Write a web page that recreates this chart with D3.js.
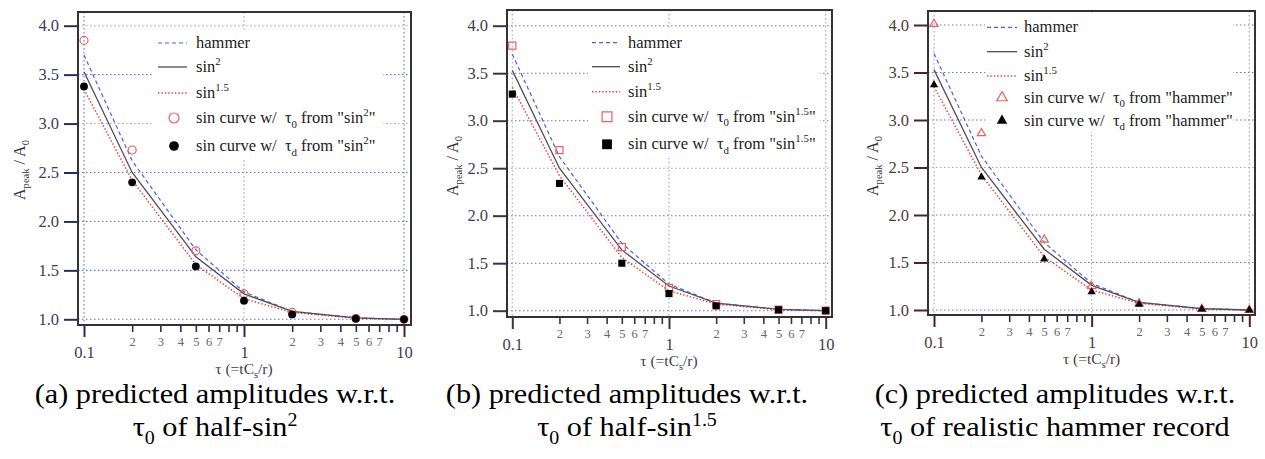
<!DOCTYPE html>
<html>
<head>
<meta charset="utf-8">
<script src="https://cdn.jsdelivr.net/npm/d3@7"></script>
<style>
  html, body { margin: 0; padding: 0; background: #fff; }
  svg { display: block; }
  text { font-family: "Liberation Serif", "Times New Roman", serif; white-space: pre; }
</style>
</head>
<body>
<svg id="chart" width="1265" height="459"></svg>
<script>
// ---- data -------------------------------------------------------------
const tau = [0.1, 0.2, 0.5, 1, 2, 5, 10];

// model curves (shared by all three panels)
const hammer = [3.70, 2.62, 1.71, 1.28, 1.08, 1.015, 1.00];
const sin2   = [3.53, 2.50, 1.64, 1.26, 1.08, 1.015, 1.00];
const sin15  = [3.35, 2.42, 1.56, 1.21, 1.07, 1.01, 1.00];

// sin-curve predictions, tau0 (open) and tau_d (filled)
const aOpen   = [3.85, 2.73, 1.70, 1.26, 1.07, 1.01, 1.00];
const aFilled = [3.38, 2.40, 1.54, 1.19, 1.05, 1.006, 1.00];
const bOpen   = [3.79, 2.69, 1.67, 1.24, 1.07, 1.01, 1.00];
const bFilled = [3.28, 2.34, 1.50, 1.18, 1.05, 1.01, 1.00];
const cOpen   = [4.01, 2.86, 1.74, 1.25, 1.07, 1.01, 1.00];
const cFilled = [3.37, 2.40, 1.535, 1.19, 1.06, 1.01, 1.00];

// tick labels
const yTicks = [1.0, 1.5, 2.0, 2.5, 3.0, 3.5, 4.0];
const xMajor = [0.1, 1, 10];
const xMinor = [0.2, 0.3, 0.4, 0.5, 0.6, 0.7, 0.8, 0.9, 2, 3, 4, 5, 6, 7, 8, 9];
const xMinorLabelled = [2, 3, 4, 5, 6, 7];

// caption texts
const captionsTop = ["(a) predicted amplitudes w.r.t.", "(b) predicted amplitudes w.r.t.", "(c) predicted amplitudes w.r.t."];

// ---- layout of the three panels ---------------------------------------
const panels = [
  {
    open: aOpen, filled: aFilled, marker: "circle",
    src: [{t: 'from "sin'}, {t: "2", sup: true}, {t: '"'}],
    caption1: captionsTop[0],
    caption2: [{t: "τ"}, {t: "0", sub: true}, {t: " of half-sin"}, {t: "2", sup: true}],
    capX: 215,
    frame: {l: 78, t: 12, r: 411, b: 325},
    x01: 84, x10: 404, y1: 319.3, y4: 25.7,
    tickColor: "#2b2b5c", labelColor: "#3b3b5e",
    grayH: [3.0, 4.0], blueV: [0.1, 10],
    yTitle: {x: 25, y: 170},
    legend: {bx: 153, by: 31, bw: 230, bh: 128, l0: 158, l1: 187, mx: 174, tx: 196, rows: [43, 67, 93, 118, 146]}
  },
  {
    open: bOpen, filled: bFilled, marker: "square",
    src: [{t: 'from "sin'}, {t: "1.5", sup: true}, {t: '"'}],
    caption1: captionsTop[1],
    caption2: [{t: "τ"}, {t: "0", sub: true}, {t: " of half-sin"}, {t: "1.5", sup: true}],
    capX: 627,
    frame: {l: 507, t: 10, r: 832, b: 317},
    x01: 512.3, x10: 825.7, y1: 310.7, y4: 25.7,
    tickColor: "#34344e", labelColor: "#3d3d55",
    grayH: [2.5], blueV: [],
    yTitle: {x: 458, y: 166},
    legend: {bx: 588, by: 30, bw: 232, bh: 128, l0: 592, l1: 620, mx: 607, tx: 628, rows: [42.7, 66.7, 91.7, 116.7, 144.3]}
  },
  {
    open: cOpen, filled: cFilled, marker: "triangle",
    src: [{t: 'from "hammer"'}],
    caption1: captionsTop[2],
    caption2: [{t: "τ"}, {t: "0", sub: true}, {t: " of realistic hammer record"}],
    capX: 1055,
    frame: {l: 928, t: 11, r: 1255, b: 315},
    x01: 934, x10: 1249.3, y1: 310, y4: 25,
    tickColor: "#4a2424", labelColor: "#4d3a3a",
    grayH: [2.5], blueV: [],
    yTitle: {x: 878, y: 166},
    legend: {bx: 985, by: 14, bw: 248, bh: 118, l0: 987, l1: 1017, mx: 1002, tx: 1024, rows: [27.3, 51.7, 76, 97.7, 120.7]}
  }
];

const svg = d3.select("#chart");

const styles = {
  hammer: {stroke: "#4c5cf6", width: 1.2, dash: "4,3"},
  sin2:   {stroke: "#505050", width: 1.3, dash: null},
  sin15:  {stroke: "#ff3535", width: 1.5, dash: "1.4,2"}
};
const openColor = "#ef5f5f";

// Writes a run of text pieces with sub/superscripts into a <text> element.
function richText(sel, parts, size, supRaise = 0.42) {
  let shift = 0;
  parts.forEach(p => {
    let target = 0;
    if (p.sub) target = size * 0.28;
    if (p.sup) target = -size * supRaise;
    const ts = sel.append("tspan").text(p.t).attr("dy", target - shift);
    if (p.sub || p.sup) ts.attr("font-size", size * 0.66);
    shift = target;
  });
}

function markerPath(kind, size) {
  const type = kind === "circle" ? d3.symbolCircle : kind === "square" ? d3.symbolSquare : d3.symbolTriangle;
  return d3.symbol().type(type).size(size)();
}
// symbol areas: plotted points and the larger legend keys
const plotOpen = {circle: 50, square: 50, triangle: 30};
const plotFill = {circle: 48, square: 50, triangle: 30};
const keyOpen  = {circle: 78, square: 96, triangle: 48};
const keyFill  = {circle: 74, square: 96, triangle: 48};

function drawPanel(p) {
  const g = svg.append("g");
  const f = p.frame;
  const x = d3.scaleLog().domain([0.1, 10]).range([p.x01, p.x10]);
  const y = d3.scaleLinear().domain([1, 4]).range([p.y1, p.y4]);

  // grid
  const grid = g.append("g");
  grid.selectAll("line.h").data(yTicks).join("line")
    .attr("x1", f.l).attr("x2", f.r)
    .attr("y1", d => y(d)).attr("y2", d => y(d))
    .attr("stroke", d => p.grayH.includes(d) ? "#a8a8a8" : "#6a6af2")
    .attr("stroke-width", 1.1).attr("stroke-dasharray", "1.5,2.5");
  grid.selectAll("line.v").data(xMajor).join("line")
    .attr("x1", d => x(d)).attr("x2", d => x(d))
    .attr("y1", f.t).attr("y2", f.b)
    .attr("stroke", d => p.blueV.includes(d) ? "#6a6af2" : "#a8a8a8")
    .attr("stroke-width", 1.1).attr("stroke-dasharray", "1.5,2.5");

  // model curves
  const line = d3.line().x(d => x(d[0])).y(d => y(d[1]));
  [["hammer", hammer], ["sin15", sin15], ["sin2", sin2]].forEach(([k, vals]) => {
    const s = styles[k];
    g.append("path")
      .attr("d", line(tau.map((t, i) => [t, vals[i]])))
      .attr("fill", "none").attr("stroke", s.stroke).attr("stroke-width", s.width)
      .attr("stroke-dasharray", s.dash);
  });

  // markers
  g.selectAll("path.open").data(tau.map((t, i) => [t, p.open[i]])).join("path")
    .attr("d", markerPath(p.marker, plotOpen[p.marker]))
    .attr("transform", d => `translate(${x(d[0])},${y(d[1])})`)
    .attr("fill", "none").attr("stroke", openColor).attr("stroke-width", 1.2);
  g.selectAll("path.filled").data(tau.map((t, i) => [t, p.filled[i]])).join("path")
    .attr("d", markerPath(p.marker, plotFill[p.marker]))
    .attr("transform", d => `translate(${x(d[0])},${y(d[1])})`)
    .attr("fill", "#000");

  // legend
  const L = p.legend;
  const lg = g.append("g");
  lg.append("rect").attr("x", L.bx).attr("y", L.by).attr("width", L.bw).attr("height", L.bh).attr("fill", "#fff");
  const lineRows = [["hammer", [{t: "hammer"}]], ["sin2", [{t: "sin"}, {t: "2", sup: true}]], ["sin15", [{t: "sin"}, {t: "1.5", sup: true}]]];
  lineRows.forEach(([k, parts], i) => {
    const s = styles[k];
    lg.append("line").attr("x1", L.l0).attr("x2", L.l1).attr("y1", L.rows[i]).attr("y2", L.rows[i])
      .attr("stroke", s.stroke).attr("stroke-width", s.width).attr("stroke-dasharray", s.dash);
    const t = lg.append("text").attr("x", L.tx).attr("y", L.rows[i] + 5).attr("font-size", 16.5).attr("fill", "#222");
    richText(t, parts, 16.5);
  });
  [["0", true], ["d", false]].forEach(([sub, isOpen], j) => {
    const ry = L.rows[3 + j];
    const m = lg.append("path").attr("d", markerPath(p.marker, isOpen ? keyOpen[p.marker] : keyFill[p.marker]))
      .attr("transform", `translate(${L.mx},${ry})`);
    if (isOpen) m.attr("fill", "none").attr("stroke", openColor).attr("stroke-width", 1.2);
    else m.attr("fill", "#000");
    const t = lg.append("text").attr("x", L.tx).attr("y", ry + 5).attr("font-size", 16.5).attr("fill", "#222");
    richText(t, [{t: "sin curve w/  τ"}, {t: sub, sub: true}, {t: " "}].concat(p.src), 16.5);
  });

  // frame
  g.append("rect").attr("x", f.l).attr("y", f.t).attr("width", f.r - f.l).attr("height", f.b - f.t)
    .attr("fill", "none").attr("stroke", "#333").attr("stroke-width", 2);

  // y axis
  const ya = g.append("g").attr("transform", `translate(${f.l - 1},0)`)
    .call(d3.axisLeft(y).tickValues(yTicks).tickSize(13).tickPadding(5).tickFormat(d3.format(".1f")));
  ya.select(".domain").remove();
  ya.selectAll(".tick line").attr("stroke", p.tickColor).attr("stroke-width", 2);
  ya.selectAll(".tick text").attr("font-family", "Liberation Serif").attr("font-size", 16.5).attr("fill", p.labelColor);

  // x axis, major
  const xa = g.append("g").attr("transform", `translate(0,${f.b + 1})`)
    .call(d3.axisBottom(x).tickValues(xMajor).tickSize(11).tickPadding(9).tickFormat(d => d === 0.1 ? "0.1" : d3.format("d")(d)));
  xa.select(".domain").remove();
  xa.selectAll(".tick line").attr("stroke", p.tickColor).attr("stroke-width", 2);
  xa.selectAll(".tick text").attr("font-family", "Liberation Serif").attr("font-size", 16.5).attr("fill", p.labelColor);

  // x axis, minor
  const xm = g.append("g").attr("transform", `translate(0,${f.b + 1})`)
    .call(d3.axisBottom(x).tickValues(xMinor).tickSize(6).tickPadding(5)
      .tickFormat(d => { const m = Math.round(d >= 1 ? d : d * 10); return xMinorLabelled.includes(m) ? String(m) : ""; }));
  xm.select(".domain").remove();
  xm.selectAll(".tick line").attr("stroke", p.tickColor).attr("stroke-width", 1.6);
  xm.selectAll(".tick text").attr("font-family", "Liberation Serif").attr("font-size", 12.5).attr("fill", "#666");

  // axis titles
  const xt = g.append("text").attr("x", x(1)).attr("y", f.b + 49).attr("text-anchor", "middle")
    .attr("font-size", 15.5).attr("fill", p.labelColor);
  richText(xt, [{t: "τ (=tC"}, {t: "s", sub: true}, {t: "/r)"}], 15.5);

  const yt = g.append("text").attr("transform", `translate(${p.yTitle.x},${p.yTitle.y}) rotate(-90)`)
    .attr("text-anchor", "middle").attr("font-size", 16).attr("fill", "#333");
  richText(yt, [{t: "A"}, {t: "peak", sub: true}, {t: " / A"}, {t: "0", sub: true}], 16);

  // caption (two lines, slightly widened type)
  const cap = svg.append("g").attr("transform", `translate(${p.capX},0) scale(1.08,1)`);
  cap.append("text").attr("x", 0).attr("y", 403).attr("text-anchor", "middle")
    .attr("font-size", 28).attr("fill", "#000").text(p.caption1);
  const c2 = cap.append("text").attr("x", 0).attr("y", 436).attr("text-anchor", "middle")
    .attr("font-size", 28).attr("fill", "#000");
  richText(c2, p.caption2, 28, 0.34);
}

panels.forEach(drawPanel);
</script>
</body>
</html>
